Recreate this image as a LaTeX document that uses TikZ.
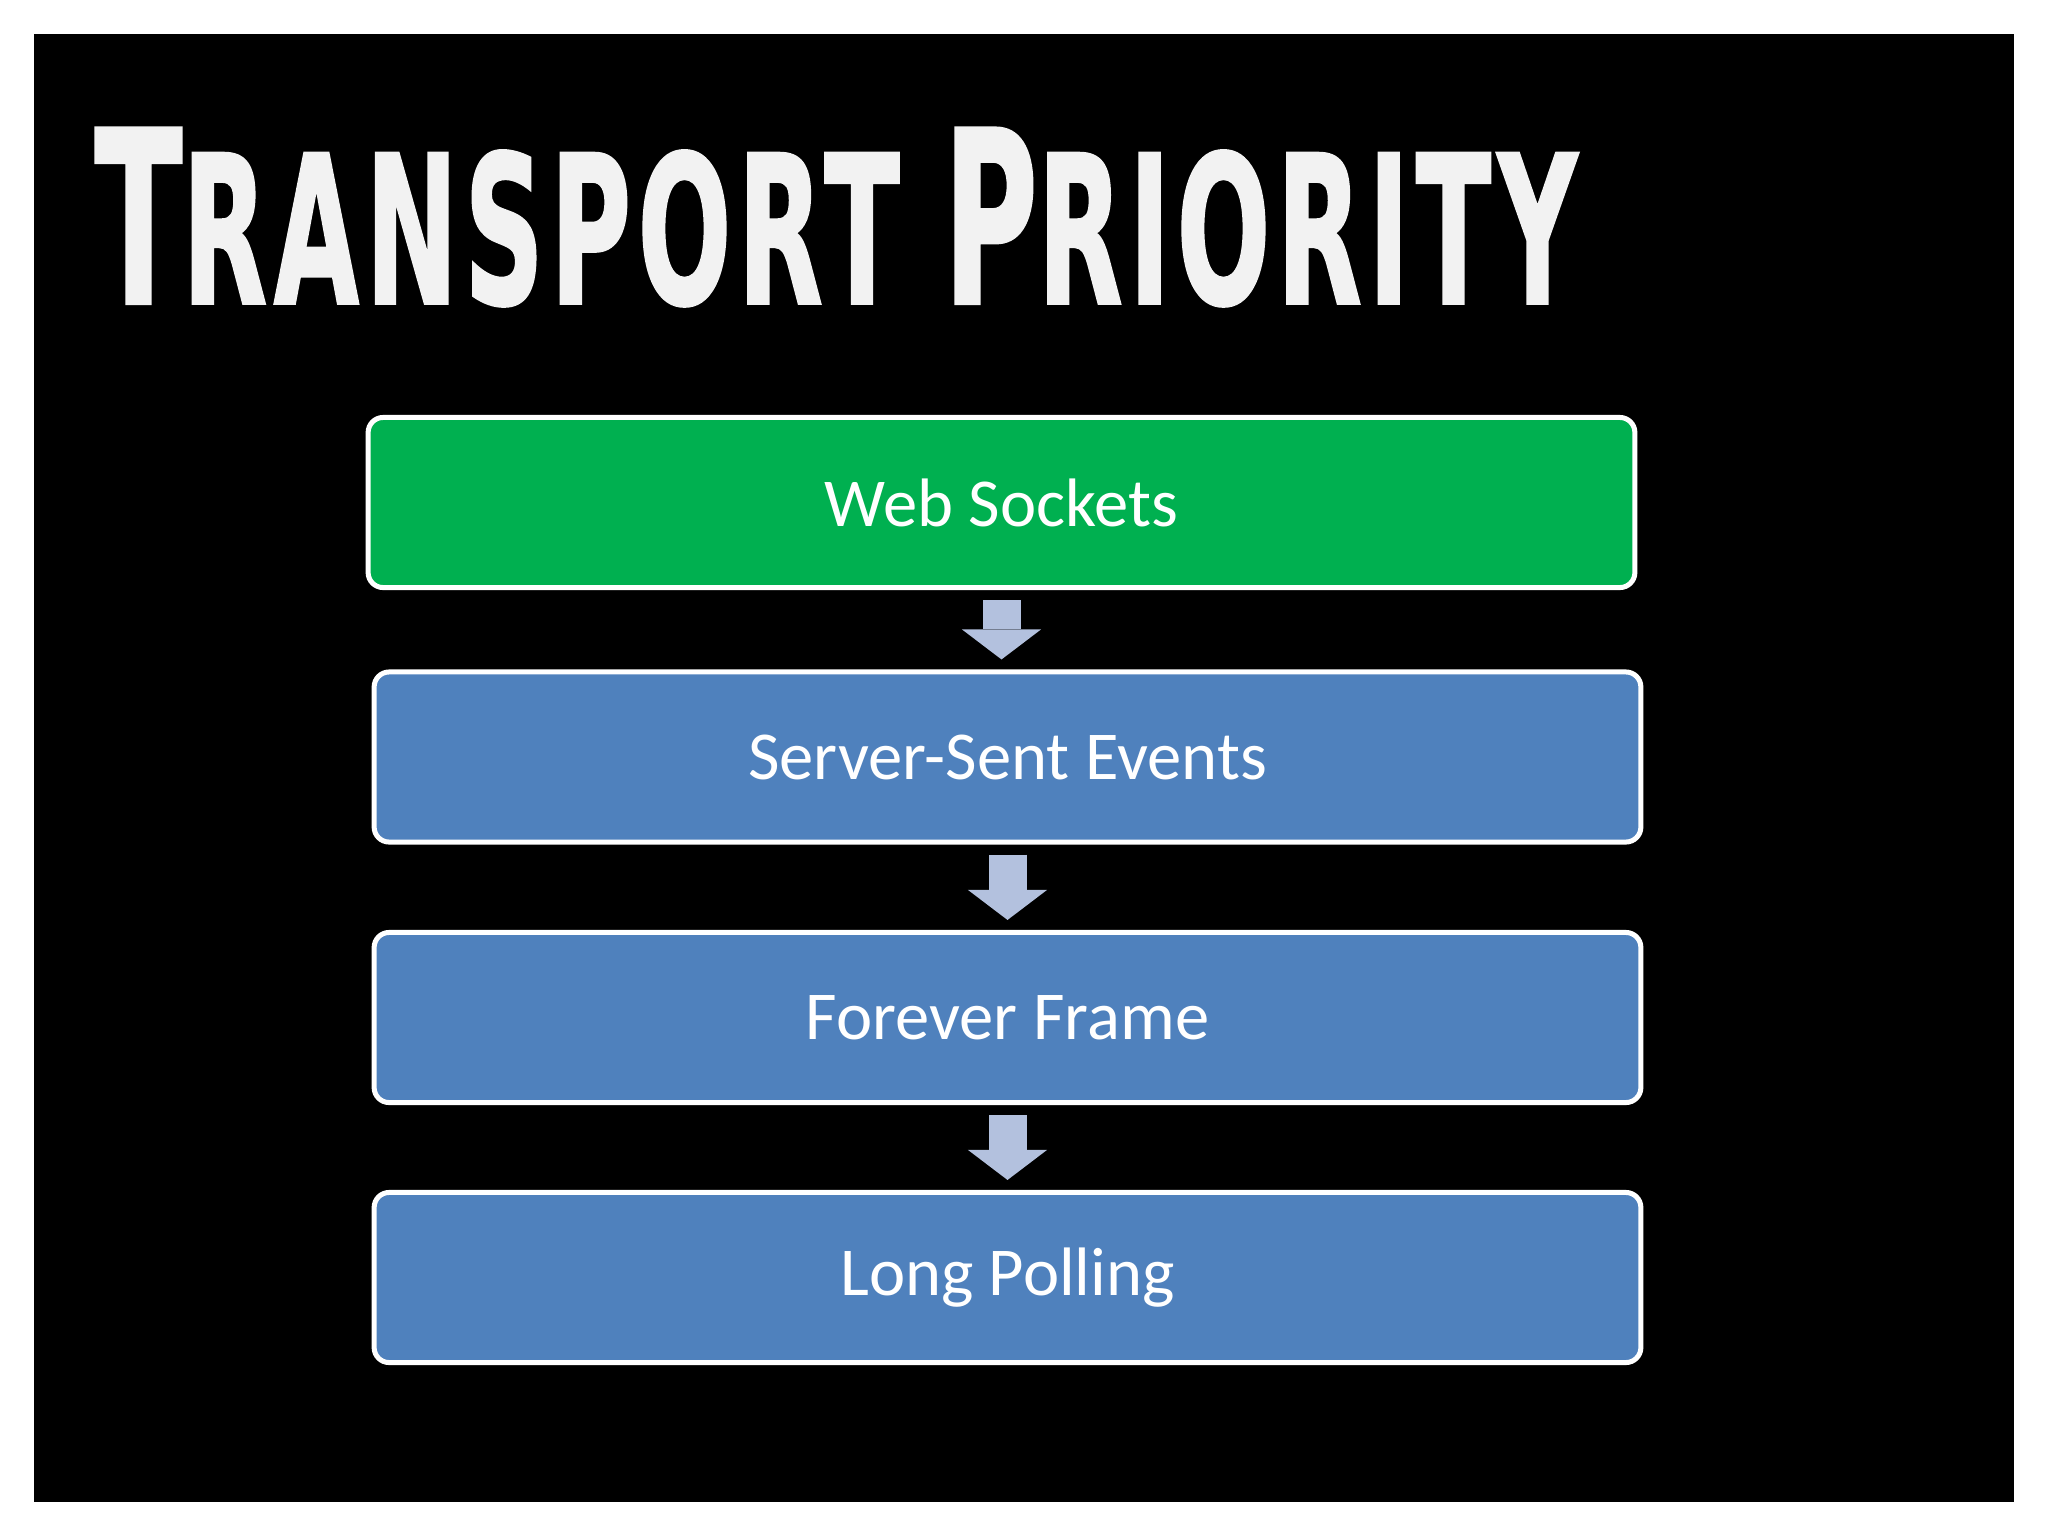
\documentclass[tikz,border=0pt]{standalone}
\usepackage{fontspec}
\setmainfont{Carlito}
\newfontfamily\titlefont[FakeBold=1.5, LetterSpace=6]{DejaVu Sans Bold}
\usetikzlibrary{arrows.meta}

\definecolor{slidegreen}{RGB}{0,176,80}
\definecolor{slideblue}{RGB}{79,129,189}
\definecolor{arrowblue}{RGB}{179,193,222}
\definecolor{titlewhite}{RGB}{242,242,242}

\tikzset{
  box/.style={draw=white, line width=0.05cm, rounded corners=0.15cm,
    minimum width=12.66cm, minimum height=1.70cm, inner sep=0pt,
    text=white, font=\fontsize{19.5}{24}\selectfont},
  flowarrow/.style={arrowblue, line width=0.38cm,
    shorten <=0.1cm, shorten >=0.1cm,
    -{Triangle[length=0.3cm, width=0.79cm, line width=0pt]}}
}

\begin{document}
\begin{tikzpicture}[x=0.01cm, y=-0.01cm]
    \useasboundingbox (0,0) rectangle (2048,1536);
    \fill [white] (0,0) rectangle (2048,1536);
    \fill [black] (34,34) rectangle (2014,1502);

    % title
    \node [anchor=south west, inner sep=0pt, text=titlewhite] (title) at (94,307)
      {\resizebox{14.82cm}{1.75cm}{\titlefont
        {\fontsize{35}{35}\selectfont T}{\fontsize{30}{30}\selectfont RANSPORT}\hspace{12pt}%
        {\fontsize{35}{35}\selectfont P}{\fontsize{30}{30}\selectfont RIORITY}}};

    % transports
    \node [box, fill=slidegreen] (ws) at (1001.5,502.5) {Web Sockets};
    \node [box, fill=slideblue] (sse) at (1007.5,757) {Server-Sent Events};
    \node [box, fill=slideblue] (ff) at (1007.5,1017.5) {Forever Frame};
    \node [box, fill=slideblue] (lp) at (1007.5,1277.5) {Long Polling};

    \draw [flowarrow] (ws.south) -- (ws.south |- sse.north);
    \draw [flowarrow] (sse) -- (ff);
    \draw [flowarrow] (ff) -- (lp);

\end{tikzpicture}
\end{document}
